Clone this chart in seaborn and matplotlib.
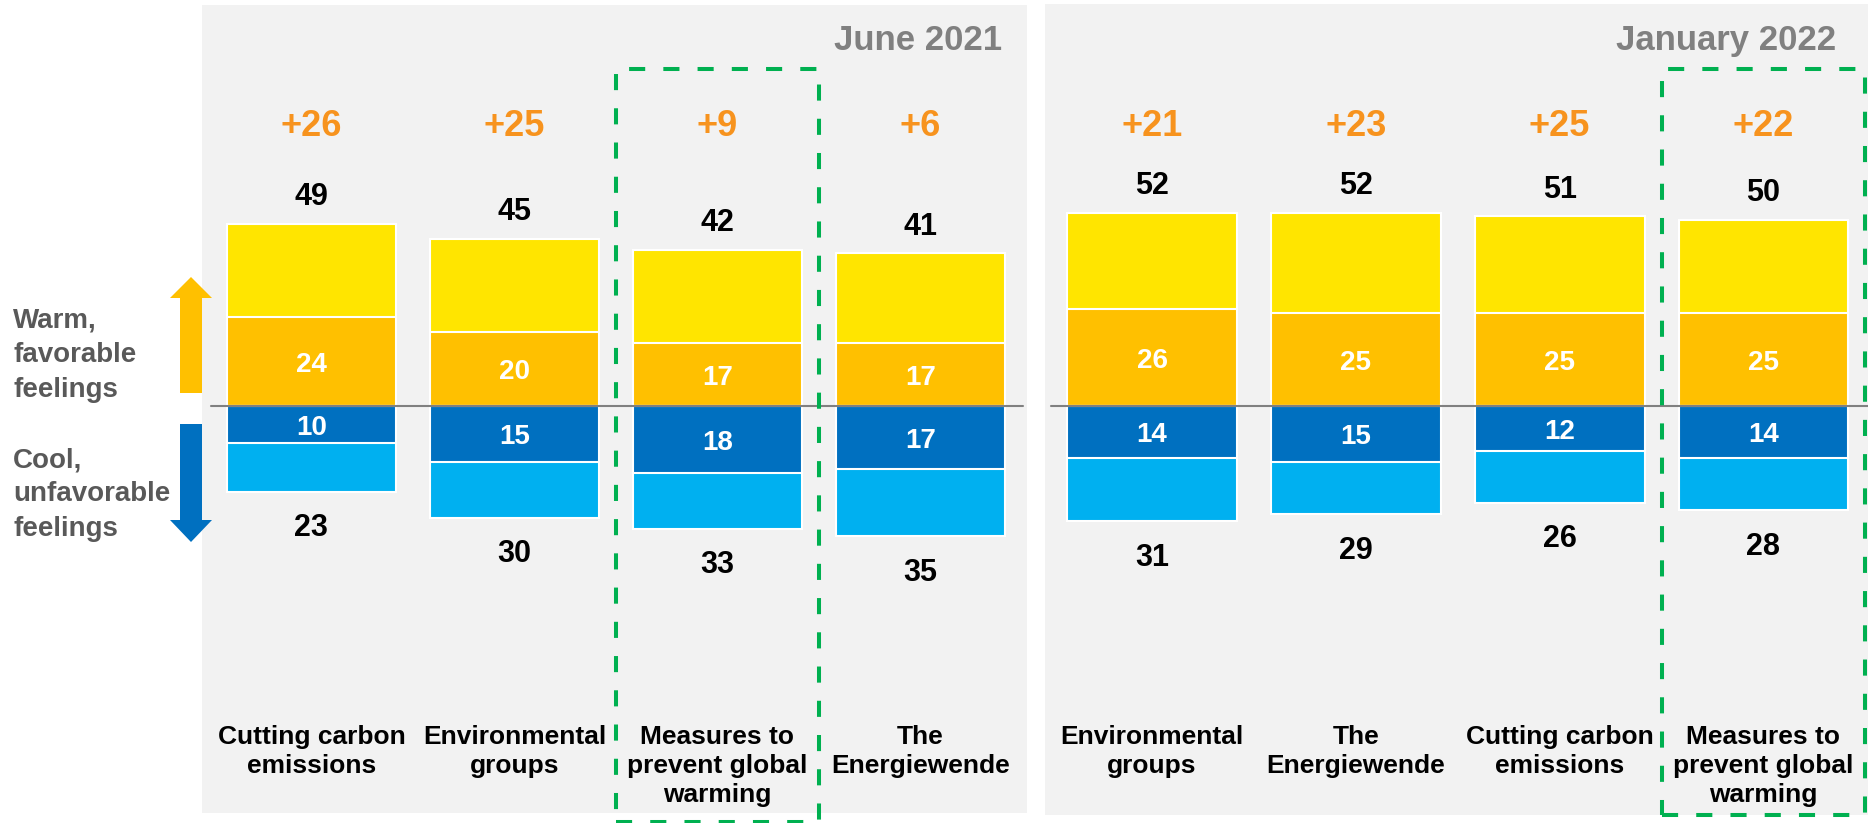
import matplotlib
matplotlib.use("Agg")
import matplotlib.pyplot as plt
from matplotlib.patches import Rectangle, Polygon
import seaborn as sns

# ---- data -----------------------------------------------------------------
cats_jun = ["Cutting carbon\nemissions", "Environmental\ngroups",
            "Measures to\nprevent global\nwarming", "The\nEnergiewende"]
warm_total_jun = [49, 45, 42, 41]
warm_strong_jun = [24, 20, 17, 17]
cool_total_jun = [23, 30, 33, 35]
cool_strong_jun = [10, 15, 18, 17]
net_jun = [26, 25, 9, 6]

cats_jan = ["Environmental\ngroups", "The\nEnergiewende",
            "Cutting carbon\nemissions", "Measures to\nprevent global\nwarming"]
warm_total_jan = [52, 52, 51, 50]
warm_strong_jan = [26, 25, 25, 25]
cool_total_jan = [31, 29, 26, 28]
cool_strong_jan = [14, 15, 12, 14]
net_jan = [21, 23, 25, 22]

highlight = "Measures to\nprevent global\nwarming"

# ---- style ----------------------------------------------------------------
sns.set_style("white")
plt.rcParams["font.family"] = ["Liberation Sans", "DejaVu Sans"]
plt.rcParams["font.weight"] = "bold"

YELLOW = "#FFE500"
ORANGE = "#FFC000"
DARK_BLUE = "#0070C0"
LIGHT_BLUE = "#00B0F0"
NET_ORANGE = "#F7931E"
PANEL_BG = "#F2F2F2"
GREEN = "#00B050"

W, H = 1868, 823
BASE = 406.0   # pixel row of the zero line
PX = 3.72      # pixels per percentage point

fig = plt.figure(figsize=(W / 100, H / 100), dpi=100)


def frac(x0, y0, x1, y1):
    return [x0 / W, 1 - y1 / H, (x1 - x0) / W, (y1 - y0) / H]


def draw_panel(rect, xlim, cats, wt, ws, ct, cs, net, title, title_x,
               line_span, box_bottom):
    x0, y0, x1, y1 = rect
    ax = fig.add_axes(frac(x0, y0, x1, y1))
    ax.set_facecolor(PANEL_BG)
    layers = [
        (wt, YELLOW),
        (ws, ORANGE),
        ([-v for v in ct], LIGHT_BLUE),
        ([-v for v in cs], DARK_BLUE),
    ]
    for vals, col in layers:
        sns.barplot(x=cats, y=vals, color=col, saturation=1, width=0.833,
                    edgecolor="white", linewidth=1.5, errorbar=None, ax=ax)
    ax.set_xlim(*xlim)
    ax.set_ylim(-(y1 - BASE) / PX, (BASE - y0) / PX)
    for s in ax.spines.values():
        s.set_visible(False)
    ax.set_xticks([])
    ax.set_yticks([])
    ax.set_xlabel("")
    ax.set_ylabel("")
    ax.axhline(0, xmin=line_span[0], xmax=line_span[1], color="#808080",
               lw=1.5, zorder=5)

    for i, cat in enumerate(cats):
        ax.text(i, 72.6, f"+{net[i]}", ha="center", va="baseline",
                fontsize=26, color=NET_ORANGE, fontweight="bold")
        ax.text(i, wt[i] + 5.0, f"{wt[i]}", ha="center", va="baseline",
                fontsize=22, color="black", fontweight="bold")
        ax.text(i, -ct[i] - 12.0, f"{ct[i]}", ha="center", va="baseline",
                fontsize=22, color="black", fontweight="bold")
        ax.text(i, ws[i] / 2 - 2.8, f"{ws[i]}", ha="center", va="baseline",
                fontsize=20, color="white", fontweight="bold", zorder=6)
        ax.text(i, -cs[i] / 2 - 2.8, f"{cs[i]}", ha="center", va="baseline",
                fontsize=20, color="white", fontweight="bold", zorder=6)
        ax.text(i, -(725 - BASE) / PX, cat, ha="center", va="top",
                fontsize=19, color="black", fontweight="bold",
                linespacing=1.27, multialignment="center")
        if cat == highlight:
            top = (BASE - 69) / PX
            bot = -(box_bottom - BASE) / PX
            ax.add_patch(Rectangle((i - 0.5, bot), 1.0, top - bot,
                                   fill=False, edgecolor=GREEN, lw=2.9,
                                   linestyle=(0, (4, 4.5)), clip_on=False,
                                   zorder=8))

    ax.text((title_x - x0) / (x1 - x0), 1 - (50 - y0) / (y1 - y0), title,
            transform=ax.transAxes, ha="right", va="baseline",
            fontsize=25, color="#808080", fontweight="bold")
    return ax


draw_panel((202, 5, 1027, 813), (-0.539, 3.525), cats_jun,
           warm_total_jun, warm_strong_jun, cool_total_jun, cool_strong_jun,
           net_jun, "June 2021", 1002, (0.011, 0.995), 822)
draw_panel((1045, 4, 1868, 815), (-0.525, 3.513), cats_jan,
           warm_total_jan, warm_strong_jan, cool_total_jan, cool_strong_jan,
           net_jan, "January 2022", 1836, (0.007, 1.0), 815)

# ---- left-hand legend: arrows and captions (pixel coordinates) -------------
ov = fig.add_axes([0, 0, 1, 1])
ov.set_xlim(0, W)
ov.set_ylim(H, 0)
ov.set_axis_off()
ov.patch.set_alpha(0)

up = [(191, 277), (212, 298), (202, 298), (202, 393), (180, 393),
      (180, 298), (170, 298)]
down = [(180, 424), (202, 424), (202, 520), (212, 520), (191, 542),
        (170, 520), (180, 520)]
ov.add_patch(Polygon(up, closed=True, facecolor=ORANGE, edgecolor="none"))
ov.add_patch(Polygon(down, closed=True, facecolor=DARK_BLUE, edgecolor="none"))

ov.text(13, 308, "Warm,\nfavorable\nfeelings", ha="left", va="top",
        fontsize=20, color="#595959", fontweight="bold", linespacing=1.42)
ov.text(13, 447, "Cool,\nunfavorable\nfeelings", ha="left", va="top",
        fontsize=20, color="#595959", fontweight="bold", linespacing=1.42)

fig.savefig("out.png", dpi=100)
